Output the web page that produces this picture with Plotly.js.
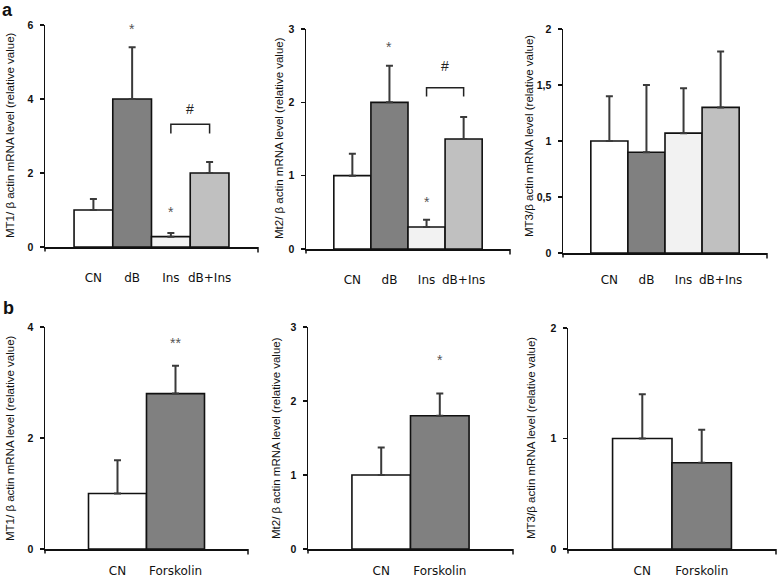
<!DOCTYPE html>
<html>
<head>
<meta charset="utf-8">
<script src="https://cdn.plot.ly/plotly-3.0.1.min.js"></script>
<style>html,body{margin:0;padding:0;background:#fff}#chart{width:778px;height:577px}</style>
</head>
<body>
<div id="chart"></div>
<script>
// ---- data ----
var catsA = ['CN', 'dB', 'Ins', 'dB+Ins'];
var catsB = ['CN', 'Forskolin'];

var mt1A = [1.0, 4.0, 0.28, 2.0];
var mt1AErr = [0.3, 1.4, 0.1, 0.3];
var mt2A = [1.0, 2.0, 0.3, 1.5];
var mt2AErr = [0.3, 0.5, 0.1, 0.3];
var mt3A = [1.0, 0.9, 1.07, 1.3];
var mt3AErr = [0.4, 0.6, 0.4, 0.5];

var mt1B = [1.0, 2.8];
var mt1BErr = [0.6, 0.5];
var mt2B = [1.0, 1.8];
var mt2BErr = [0.37, 0.3];
var mt3B = [1.0, 0.78];
var mt3BErr = [0.4, 0.3];

var yTitles = ['MT1/ \u03b2 actin mRNA level (relative value)',
               'Mt2/ \u03b2 actin mRNA level (relative value)',
               'MT3/\u03b2 actin mRNA level (relative value)'];

var tickValsA = [[0, 2, 4, 6], [0, 1, 2, 3], [0, 0.5, 1, 1.5, 2]];
var tickTextA = [['0', '2', '4', '6'], ['0', '1', '2', '3'], ['0', '0,5', '1', '1,5', '2']];
var tickValsB = [[0, 2, 4], [0, 1, 2, 3], [0, 1, 2]];
var tickTextB = [['0', '2', '4'], ['0', '1', '2', '3'], ['0', '1', '2']];

// significance marks: [category, y, text]
var starsA1 = [['dB', 5.9, '*'], ['Ins', 0.95, '*']];
var starsA2 = [['dB', 2.76, '*'], ['Ins', 0.64, '*']];
var starsB1 = [['Forskolin', 3.71, '**']];
var starsB2 = [['Forskolin', 2.55, '*']];
// bracket: [low, high, hashY]
var bracketA1 = [3.07, 3.32, 3.72];
var bracketA2 = [2.08, 2.2, 2.5];

var colorsA = ['#ffffff', '#808080', '#f2f2f2', '#c0c0c0'];
var colorsB = ['#ffffff', '#808080'];

// ---- layout helpers ----
var W = 778, H = 577;
function dx(a, b) { return [a / W, b / W]; }
function dy(top, bottom) { return [1 - bottom / H, 1 - top / H]; }

var panels = [
  {cats: catsA, vals: mt1A, err: mt1AErr, colors: colorsA, xd: dx(45, 258), yd: dy(25, 247), range: [0, 6], tv: tickValsA[0], tt: tickTextA[0], title: yTitles[0], tx: 10, ty: 135, stand: 19},
  {cats: catsA, vals: mt2A, err: mt2AErr, colors: colorsA, xd: dx(306, 510), yd: dy(29, 249), range: [0, 3], tv: tickValsA[1], tt: tickTextA[1], title: yTitles[1], tx: 279, ty: 138, stand: 19},
  {cats: catsA, vals: mt3A, err: mt3AErr, colors: colorsA, xd: dx(563, 767), yd: dy(29, 253), range: [0, 2], tv: tickValsA[2], tt: tickTextA[2], title: yTitles[2], tx: 529, ty: 136, stand: 15},
  {cats: catsB, vals: mt1B, err: mt1BErr, colors: colorsB, xd: dx(45, 248), yd: dy(327, 549), range: [0, 4], tv: tickValsB[0], tt: tickTextB[0], title: yTitles[0], tx: 10, ty: 438, stand: 10},
  {cats: catsB, vals: mt2B, err: mt2BErr, colors: colorsB, xd: dx(308, 513), yd: dy(327, 549), range: [0, 3], tv: tickValsB[1], tt: tickTextB[1], title: yTitles[1], tx: 276, ty: 438, stand: 10},
  {cats: catsB, vals: mt3B, err: mt3BErr, colors: colorsB, xd: dx(568, 776), yd: dy(328, 549), range: [0, 2], tv: tickValsB[2], tt: tickTextB[2], title: yTitles[2], tx: 531, ty: 438, stand: 10}
];

var data = [];
var layout = {
  width: W, height: H,
  margin: {l: 0, r: 0, t: 0, b: 0},
  paper_bgcolor: '#fff', plot_bgcolor: 'rgba(0,0,0,0)',
  showlegend: false,
  bargap: 0,
  annotations: [],
  shapes: []
};

panels.forEach(function (p, i) {
  var n = i + 1;
  var xa = 'x' + (n === 1 ? '' : n), ya = 'y' + (n === 1 ? '' : n);
  data.push({
    type: 'bar', x: p.cats, y: p.vals, xaxis: xa, yaxis: ya,
    marker: {color: p.colors, line: {color: '#111', width: 1.6}},
    error_y: {type: 'data', array: p.err, arrayminus: p.err.map(function () { return 0; }), symmetric: false,
              color: '#3a3a3a', thickness: 2, width: 3.5},
    hoverinfo: 'none'
  });
  layout['xaxis' + (n === 1 ? '' : n)] = {
    domain: p.xd, anchor: ya, type: 'category',
    range: [-1.25, p.cats.length + 0.25],
    showline: true, linecolor: '#111', linewidth: 1.5,
    ticks: '', showgrid: false, zeroline: false,
    ticklabelstandoff: p.stand,
    tickfont: {family: 'DejaVu Sans, Verdana, sans-serif', size: 12, color: '#111'},
    fixedrange: true
  };
  layout['yaxis' + (n === 1 ? '' : n)] = {
    domain: p.yd, anchor: xa, range: p.range,
    tickmode: 'array', tickvals: p.tv, ticktext: p.tt,
    showline: true, linecolor: '#111', linewidth: 1.5,
    ticks: 'outside', ticklen: 4, tickwidth: 1.5, tickcolor: '#111',
    showgrid: false, zeroline: false,
    ticklabelstandoff: 4,
    tickfont: {family: 'Liberation Sans, Arial, sans-serif', size: 10.5, color: '#111', weight: 'bold'},
    fixedrange: true
  };
  layout.annotations.push({
    xref: 'paper', yref: 'paper', x: p.tx / W, y: 1 - p.ty / H,
    text: p.title, textangle: -90, showarrow: false,
    xanchor: 'center', yanchor: 'middle',
    font: {family: 'Liberation Sans, Arial, sans-serif', size: 11.5, color: '#111'}
  });
  // right end tick of x axis and y axis stub below
  layout.shapes.push({type: 'line', xref: xa + ' domain', yref: ya + ' domain', x0: 1, x1: 1, y0: 0, y1: -0.025, line: {color: '#111', width: 1.5}});
  layout.shapes.push({type: 'line', xref: xa + ' domain', yref: ya + ' domain', x0: 0, x1: 0, y0: 0, y1: -0.02, line: {color: '#111', width: 1.5}});
});

function addStars(list, n) {
  var xa = 'x' + (n === 1 ? '' : n), ya = 'y' + (n === 1 ? '' : n);
  list.forEach(function (s) {
    layout.annotations.push({xref: xa, yref: ya, x: s[0], y: s[1], text: s[2], showarrow: false,
      xanchor: 'center', yanchor: 'middle', font: {family: 'Liberation Sans, Arial, sans-serif', size: 14, color: '#555'}});
  });
}
addStars(starsA1, 1);
addStars(starsA2, 2);
addStars(starsB1, 4);
addStars(starsB2, 5);

function addBracket(b, n) {
  var xa = 'x' + (n === 1 ? '' : n), ya = 'y' + (n === 1 ? '' : n);
  var i0 = catsA.indexOf('Ins'), i1 = catsA.indexOf('dB+Ins');
  layout.shapes.push({type: 'path', xref: xa, yref: ya,
    path: 'M ' + i0 + ' ' + b[0] + ' L ' + i0 + ' ' + b[1] + ' L ' + i1 + ' ' + b[1] + ' L ' + i1 + ' ' + b[0],
    line: {color: '#222', width: 1.5}});
  layout.annotations.push({xref: xa, yref: ya, x: (i0 + i1) / 2, y: b[2], text: '#', showarrow: false,
    xanchor: 'center', yanchor: 'middle', font: {family: 'Liberation Sans, Arial, sans-serif', size: 14, color: '#222'}});
}
addBracket(bracketA1, 1);
addBracket(bracketA2, 2);

// panel letters
layout.annotations.push({xref: 'paper', yref: 'paper', x: 0, y: 1 + 2 / H, text: '<b>a</b>', showarrow: false,
  xanchor: 'left', yanchor: 'top', font: {family: 'Liberation Sans, Arial, sans-serif', size: 18, color: '#111'}});
layout.annotations.push({xref: 'paper', yref: 'paper', x: 1 / W, y: 1 - 296 / H, text: '<b>b</b>', showarrow: false,
  xanchor: 'left', yanchor: 'top', font: {family: 'Liberation Sans, Arial, sans-serif', size: 18, color: '#111'}});

Plotly.newPlot('chart', data, layout, {staticPlot: true, displayModeBar: false});
</script>
</body>
</html>
